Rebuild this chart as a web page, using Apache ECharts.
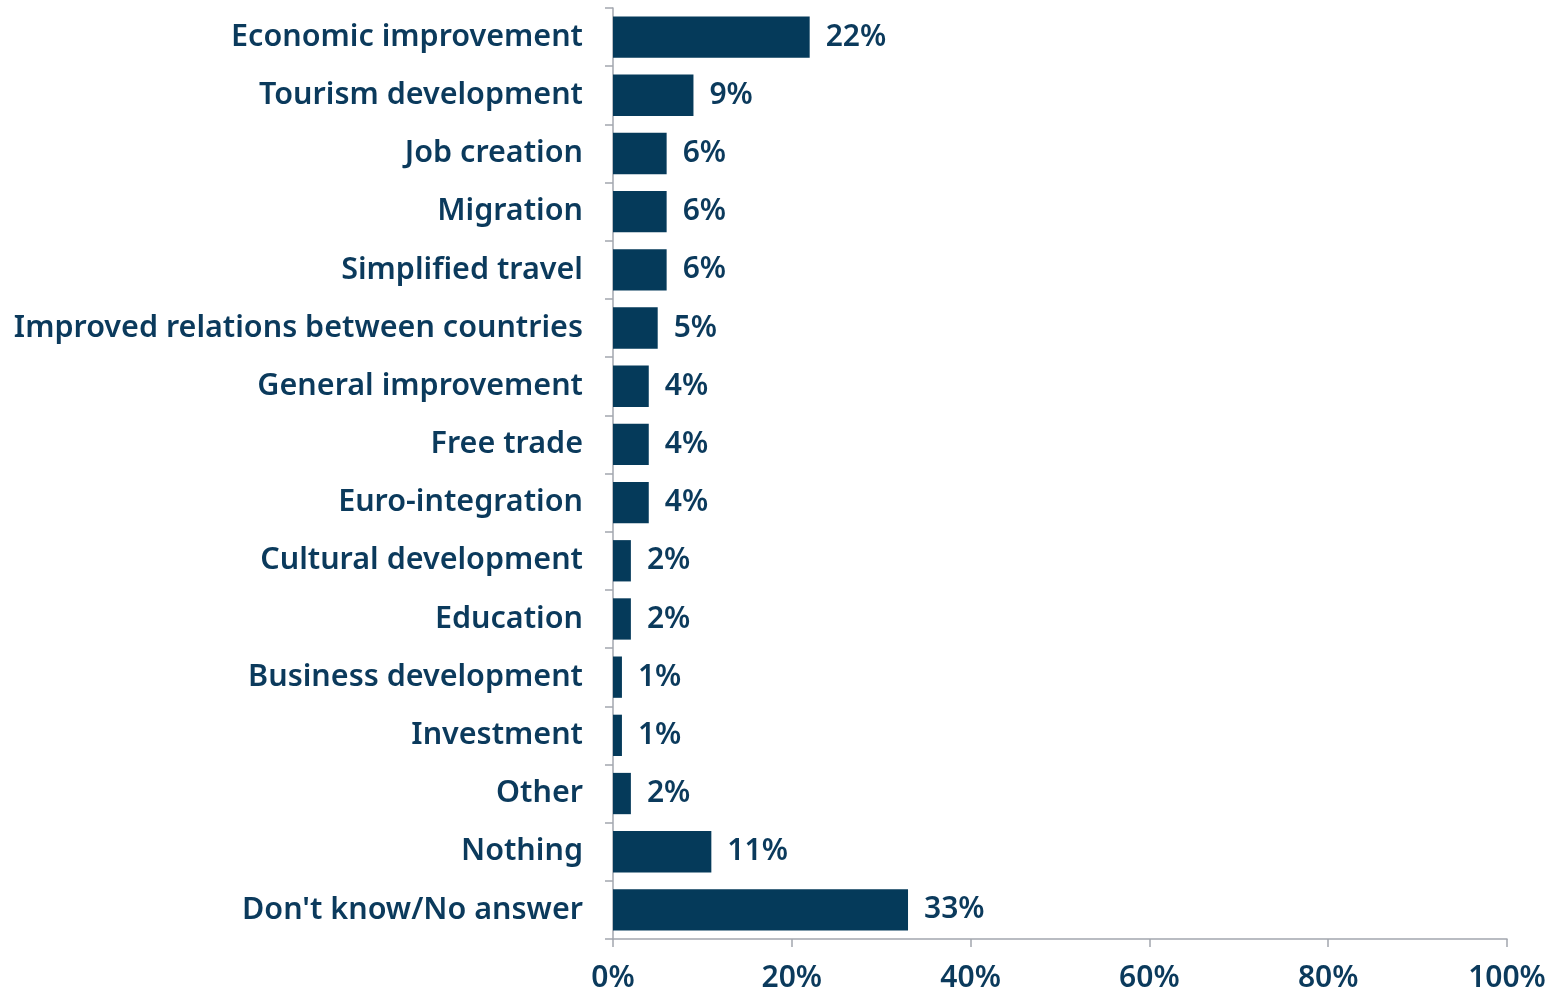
<!DOCTYPE html>
<html><head><meta charset="utf-8">
<script src="https://cdn.jsdelivr.net/npm/echarts@6/dist/echarts.min.js"></script>
<style>html,body{margin:0;padding:0;background:#fff}#c{width:1562px;height:990px}</style>
</head><body><div id="c"></div>
<script>
const categories = ["Economic improvement","Tourism development","Job creation","Migration","Simplified travel","Improved relations between countries","General improvement","Free trade","Euro-integration","Cultural development","Education","Business development","Investment","Other","Nothing","Don't know/No answer"];
const values = [22,9,6,6,6,5,4,4,4,2,2,1,1,2,11,33];
const xTicks = [0,20,40,60,80,100];

const textColor = '#0B3A5C';
const axisColor = '#A3A7AF';
const font = 'Noto Sans';
const chart = echarts.init(document.getElementById('c'));
chart.setOption({
  animation:false,
  grid:{left:613,right:55,top:8,bottom:51,containLabel:false,outerBoundsMode:'none'},
  xAxis:{type:'value',min:0,max:100,interval:20,
    axisLine:{show:true,lineStyle:{color:axisColor,width:1.5}},
    axisTick:{show:true,length:8,lineStyle:{color:axisColor,width:1.5}},
    splitLine:{show:false},
    axisLabel:{formatter:v=>xTicks.includes(v)?v+'%':'',color:textColor,fontFamily:font,fontSize:30,fontWeight:600,margin:24}},
  yAxis:{type:'category',inverse:true,data:categories,
    axisLine:{show:true,lineStyle:{color:axisColor,width:1.5}},
    axisTick:{show:true,length:8,alignWithLabel:false,lineStyle:{color:axisColor,width:1.5}},
    axisLabel:{color:textColor,fontFamily:font,fontSize:30.5,fontWeight:600,margin:30,lineHeight:36,padding:[5,0,0,0]}},
  series:[{type:'bar',data:values,barCategoryGap:'29%',
    itemStyle:{color:'#053A5A'},
    label:{show:true,position:'right',distance:16,formatter:p=>p.value+'%',color:textColor,fontFamily:font,fontSize:30,fontWeight:600,lineHeight:36,padding:[6,0,0,0]}}]
});
</script></body></html>
